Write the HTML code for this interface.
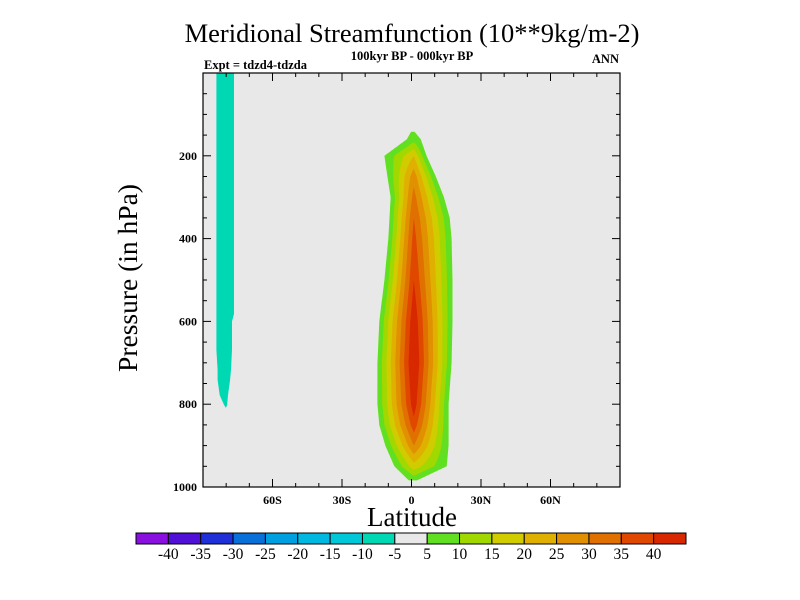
<!DOCTYPE html>
<html><head><meta charset="utf-8">
<style>
html,body{margin:0;padding:0;background:#fff;}
svg{display:block;font-family:"Liberation Serif",serif;}
</style></head>
<body>
<svg id="chart" width="800" height="600" viewBox="0 0 800 600">
<text x="412" y="42" font-size="26.5" text-anchor="middle">Meridional Streamfunction (10**9kg/m-2)</text>
<text x="412" y="60" font-size="12.5" font-weight="bold" text-anchor="middle">100kyr BP - 000kyr BP</text>
<text x="204" y="69" font-size="12.5" font-weight="bold">Expt = tdzd4-tdzda</text>
<text x="619" y="63" font-size="12.5" font-weight="bold" text-anchor="end">ANN</text>
<rect x="203" y="73" width="417" height="414" fill="#e8e8e8"/>
<g id="fills"></g>
<rect x="203" y="73" width="417" height="414" fill="none" stroke="#000" stroke-width="1.2"/>
<g id="ticks" stroke="#000" stroke-width="1"></g>
<g id="labels" font-size="12" font-weight="bold"></g>
<text x="412" y="526" font-size="27" text-anchor="middle">Latitude</text>
<text transform="translate(137,278) rotate(-90)" font-size="27.5" text-anchor="middle">Pressure (in hPa)</text>
<g id="cbar"></g>
</svg>
<script>
// ---- data ----
const levels = [-40,-35,-30,-25,-20,-15,-10,-5,5,10,15,20,25,30,35,40];
const colors = ["#8a10e0","#5010d8","#2030d8","#0870d8","#00a0e0","#00b8e0","#00c8d8","#00d8b4","#e8e8e8","#60e020","#a0d800","#d0cc00","#e0b000","#e09000","#e07000","#e04800","#d82800"];
const latTicks = [-60,-30,0,30,60];
const latTickLabels = ["60S","30S","0","30N","60N"];
const presTicks = [200,400,600,800,1000];
// positive cell (values per pressure level)
const cellP = [140,160,200,250,300,350,400,500,600,700,800,850,900,950,985];
const cellPeak = [5,8,20,28,32,35,37,40,44,46,43,38,30,18,6];
const cellWest = [0,-2,-11.7,-10.4,-9,-9.5,-10,-11.7,-13.9,-14.7,-14.7,-13.9,-11.3,-7.4,-1];
const cellEast = [1,4,6.5,10.5,14,16.5,17.3,17.7,17.7,17.3,16,16,16,15.2,2];
const cellCenter = 1;
// negative strip (-10..-5 band)
const stripP = [0,582,600,669,717,741,778,802,809];
const stripWest = [-84.2,-84.2,-84.2,-84.2,-83.7,-83.7,-82.8,-80.9,-80.1];
const stripEast = [-76.6,-76.6,-77.5,-77.5,-77.9,-78.3,-79.2,-79.6,-80.1];
const stripValue = -7;

// ---- axes ----
const X0=203, X1=620, Y0=73, Y1=487;
const xs = lat => X0 + (lat+90)/180*(X1-X0);
const ys = p => Y0 + p/1000*(Y1-Y0);
const NS="http://www.w3.org/2000/svg";
function mk(tag, attrs, parent){const e=document.createElementNS(NS,tag);for(const k in attrs)e.setAttribute(k,attrs[k]);parent.appendChild(e);return e;}
function interp(arr, p){
  for(let i=0;i<cellP.length-1;i++){ if(p>=cellP[i]&&p<=cellP[i+1]){const t=(p-cellP[i])/(cellP[i+1]-cellP[i]);return arr[i]+(arr[i+1]-arr[i])*t;} }
  return null;
}
function colorFor(v){let i=0;while(i<levels.length&&v>=levels[i])i++;return colors[i];}

const fills=document.getElementById('fills');
// strip
{
  let pts=[];
  for(let i=0;i<stripP.length;i++)pts.push(xs(stripWest[i]).toFixed(1)+","+ys(stripP[i]).toFixed(1));
  for(let i=stripP.length-1;i>=0;i--)pts.push(xs(stripEast[i]).toFixed(1)+","+ys(stripP[i]).toFixed(1));
  const e=mk('polygon',{points:pts.join(' '),fill:colorFor(stripValue)},fills);
  
  
}
// main cell: nested polygons per level
levels.filter(l=>l>0).forEach(L=>{
  const left=[],right=[];
  for(let p=cellP[0];p<=cellP[cellP.length-1];p+=2){
    const pk=interp(cellPeak,p), w=interp(cellWest,p), e=interp(cellEast,p);
    if(pk<=L)continue;
    const f=1-(L-5)/(pk-5);
    left.push(xs(cellCenter-f*(cellCenter-w)).toFixed(1)+","+ys(p).toFixed(1));
    right.push(xs(cellCenter+f*(e-cellCenter)).toFixed(1)+","+ys(p).toFixed(1));
  }
  if(left.length<2)return;
  const poly=mk('polygon',{points:left.concat(right.reverse()).join(' '),fill:colorFor(L)},fills);
  
  
});

// ticks
const tk=document.getElementById('ticks');
for(let lat=-80;lat<=80;lat+=10){
  const major=latTicks.includes(lat); const len=major?8:4; const x=xs(lat);
  mk('line',{x1:x,y1:Y1,x2:x,y2:Y1-len},tk); mk('line',{x1:x,y1:Y0,x2:x,y2:Y0+len},tk);
}
for(let p=50;p<1000;p+=50){
  const major=presTicks.includes(p); const len=major?8:4; const y=ys(p);
  mk('line',{x1:X0,y1:y,x2:X0+len,y2:y},tk); mk('line',{x1:X1,y1:y,x2:X1-len,y2:y},tk);
}
const lb=document.getElementById('labels');
latTicks.forEach((lat,i)=>{
  const t=mk('text',{x:xs(lat),y:504,'text-anchor':'middle'},lb);t.textContent=latTickLabels[i];
  
  
});
presTicks.forEach(p=>{
  const t=mk('text',{x:197,y:ys(p)+4,'text-anchor':'end'},lb);t.textContent=p;
  
  
});

// colorbar
const cb=document.getElementById('cbar');
const CB0=136, CB1=686, bw=(CB1-CB0)/colors.length;
colors.forEach((c,i)=>{
  const r=mk('rect',{x:CB0+i*bw,y:533,width:bw,height:11,fill:c,stroke:'#000','stroke-width':1},cb);
  
  
});
levels.forEach((l,i)=>{
  const t=mk('text',{x:CB0+(i+1)*bw,y:559,'text-anchor':'middle','font-size':15.5},cb);t.textContent=l;
  
  
});
</script>
</body></html>
